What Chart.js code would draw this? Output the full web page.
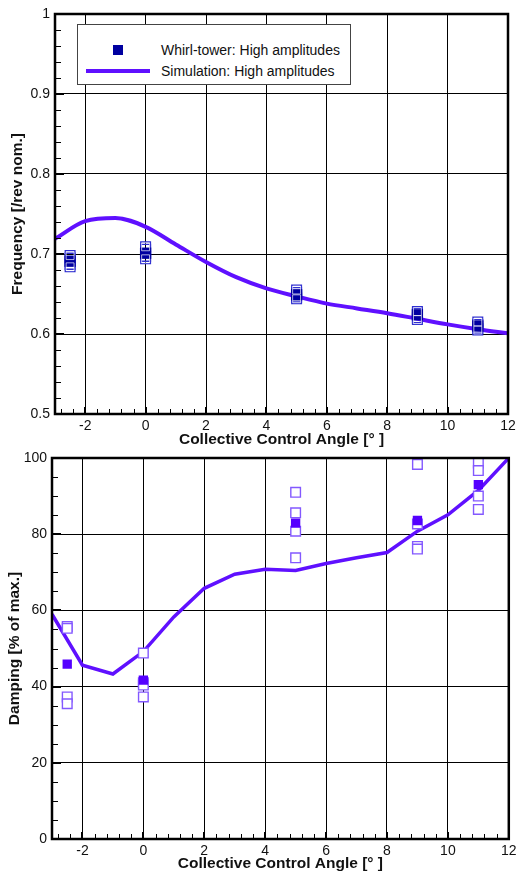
<!DOCTYPE html>
<html>
<head>
<meta charset="utf-8">
<title>Lag mode frequency and damping vs collective</title>
<script src="https://cdn.jsdelivr.net/npm/chart.js@4.4.1/dist/chart.umd.min.js"></script>
<style>
  html, body { margin: 0; padding: 0; background: #fff; }
  #wrap { position: relative; width: 517px; height: 871px; overflow: hidden; }
  #freqChart { position: absolute; left: 0; top: 0; }
  #dampChart { position: absolute; left: 0; top: 445px; }
  .legend {
    position: absolute; left: 77px; top: 24px; width: 272px; height: 59px;
    border: 1px solid #444; background: #fff;
    font: 14px "Liberation Sans", Arial, sans-serif; color: #111;
  }
  .legend .mark { position: absolute; left: 35px; top: 20px; width: 10px; height: 10px; background: #0000a0; }
  .legend .line { position: absolute; left: 8px; top: 44px; width: 64px; height: 4px; background: #5f10ff; }
  .legend .txt { position: absolute; left: 83px; line-height: 16px; white-space: nowrap; }
</style>
</head>
<body>
<div id="wrap">
  <canvas id="freqChart" width="517" height="447"></canvas>
  <canvas id="dampChart" width="517" height="426"></canvas>
  <div class="legend">
    <div class="mark"></div><div class="txt" style="top:17px">Whirl-tower: High amplitudes</div>
    <div class="line"></div><div class="txt" style="top:38px">Simulation: High amplitudes</div>
  </div>
</div>
<script>
// simulation, evaluated at whole degrees of collective
const simAngles = [-3, -2, -1, 0, 1, 2, 3, 4, 5, 6, 7, 8, 9, 10, 11, 12];
const simFrequency = [0.719, 0.741, 0.745, 0.734, 0.712, 0.690, 0.671, 0.657, 0.647, 0.638, 0.632, 0.626, 0.619, 0.612, 0.606, 0.601];
const simDamping = [59.0, 45.6, 43.3, 49.2, 58.3, 65.8, 69.5, 70.8, 70.5, 72.3, 73.8, 75.2, 80.8, 85.1, 91.5, 100.0];

// whirl-tower test points: mean value and the individual runs
const testAngles = [-2.5, 0, 5, 9, 11];
const freqMean = [0.691, 0.701, 0.649, 0.624, 0.610];
const freqRuns = [
  [0.698, 0.695, 0.687, 0.684],
  [0.709, 0.706, 0.697, 0.694],
  [0.655, 0.652, 0.646, 0.644],
  [0.628, 0.626, 0.620, 0.618],
  [0.615, 0.612, 0.607, 0.605]
];
const dampMean = [45.9, 41.7, 82.9, 83.6, 93.0];
const dampRuns = [
  [55.8, 55.3, 37.3, 35.5],
  [48.8, 41.0, 40.4, 37.3],
  [91.0, 85.6, 80.8, 73.8],
  [98.3, 82.7, 76.8, 76.1],
  [98.7, 96.7, 90.0, 86.5]
];

const xTicks = [-2, 0, 2, 4, 6, 8, 10, 12];
const freqTicks = [0.5, 0.6, 0.7, 0.8, 0.9, 1];
const dampTicks = [0, 20, 40, 60, 80, 100];

const FONT = '"Liberation Sans", Arial, sans-serif';

function pairs(xs, ys) {
  return xs.map((x, i) => ({ x: x, y: ys[i] }));
}
function runPoints(runs) {
  return testAngles.flatMap((x, i) => runs[i].map(y => ({ x: x, y: y })));
}
// highest and lowest run at each angle
function outerRuns(runs) {
  return testAngles.flatMap((x, i) => [
    { x: x, y: Math.max(...runs[i]) },
    { x: x, y: Math.min(...runs[i]) }
  ]);
}

// frame round the plot plus tecplot style inward ticks
const frameTicks = {
  id: 'frameTicks',
  afterDraw(chart, args, opts) {
    const { ctx, chartArea: a, scales } = chart;
    ctx.save();
    ctx.strokeStyle = '#000';
    const xs = scales.x, ys = scales.y;
    // minor ticks
    ctx.lineWidth = 1;
    ctx.beginPath();
    for (let v = opts.xMinorStart; v < xs.max + 1e-9; v += opts.xMinor) {
      const px = Math.round(xs.getPixelForValue(v)) + 0.5;
      ctx.moveTo(px, a.bottom); ctx.lineTo(px, a.bottom - 5);
    }
    for (let v = ys.min; v < ys.max + 1e-9; v += opts.yMinor) {
      const py = Math.round(ys.getPixelForValue(v)) + 0.5;
      ctx.moveTo(a.left, py); ctx.lineTo(a.left + 6, py);
    }
    ctx.stroke();
    // major ticks
    ctx.lineWidth = 2;
    ctx.beginPath();
    xs.ticks.forEach(t => {
      const px = Math.round(xs.getPixelForValue(t.value));
      ctx.moveTo(px, a.bottom); ctx.lineTo(px, a.bottom - 7);
    });
    ys.ticks.forEach(t => {
      const py = Math.round(ys.getPixelForValue(t.value));
      ctx.moveTo(a.left, py); ctx.lineTo(a.left + 9, py);
    });
    ctx.stroke();
    ctx.lineWidth = 2.5;
    ctx.strokeRect(a.left, a.top, a.right - a.left, a.bottom - a.top);
    ctx.restore();
  }
};

function fixedScale(size, isY) {
  return function (scale) {
    if (isY) scale.width = size; else scale.height = size;
    scale.paddingLeft = scale.paddingRight = scale.paddingTop = scale.paddingBottom = 0;
  };
}

function baseOptions(o) {
  return {
    responsive: false,
    animation: false,
    devicePixelRatio: 1,
    layout: { padding: o.padding },
    plugins: {
      legend: { display: false },
      tooltip: { enabled: false },
      frameTicks: o.ticks
    },
    scales: {
      x: {
        type: 'linear', min: -3, max: 12,
        afterBuildTicks: s => { s.ticks = xTicks.map(v => ({ value: v })); },
        afterFit: fixedScale(o.xHeight, false),
        grid: { color: '#000', lineWidth: 1, drawTicks: false },
        border: { display: false },
        ticks: { padding: 4, color: '#111', maxRotation: 0, font: { family: FONT, size: 14 } },
        title: {
          display: true, text: 'Collective Control Angle [° ]', color: '#111',
          padding: { top: 0, bottom: 0 },
          font: { family: FONT, size: 15.5, weight: 'bold', lineHeight: 1 }
        }
      },
      y: {
        type: 'linear', min: o.yMin, max: o.yMax,
        afterBuildTicks: s => { s.ticks = o.yTicks.map(v => ({ value: v })); },
        afterFit: fixedScale(o.yWidth, true),
        grid: { color: '#000', lineWidth: 1, drawTicks: false },
        border: { display: false },
        ticks: { padding: 5, color: '#111', font: { family: FONT, size: 14 },
                 callback: v => String(v) },
        title: {
          display: true, text: o.yTitle, color: '#111',
          padding: { top: o.yTitlePad, bottom: 0 },
          font: { family: FONT, size: 15.5, weight: 'bold', lineHeight: 1 }
        }
      }
    }
  };
}

// upper panel: frequency
new Chart(document.getElementById('freqChart'), {
  type: 'scatter',
  data: {
    datasets: [
      {
        type: 'line', label: 'Simulation: High amplitudes',
        data: pairs(simAngles, simFrequency),
        borderColor: '#5f10ff', borderWidth: 4, pointRadius: 0,
        cubicInterpolationMode: 'monotone', order: 3
      },
      {
        label: 'runs',
        data: runPoints(freqRuns),
        pointStyle: 'rect', pointRadius: 6.8, backgroundColor: 'rgba(0,0,0,0)',
        borderColor: '#2f2fd0', borderWidth: 1.4, order: 2
      },
      {
        label: 'Whirl-tower: High amplitudes',
        data: pairs(testAngles, freqMean),
        pointStyle: 'rect', pointRadius: 8, backgroundColor: '#0000a0',
        borderColor: '#0000a0', borderWidth: 0, order: 1
      },
      {
        label: 'runs inner',
        data: outerRuns(freqRuns),
        pointStyle: 'rect', pointRadius: 5.6, backgroundColor: 'rgba(0,0,0,0)',
        borderColor: 'rgba(255,255,255,0.85)', borderWidth: 0.8, order: 0
      }
    ]
  },
  options: baseOptions({
    padding: { left: 0, top: 14, right: 9, bottom: 0 },
    xHeight: 33, yWidth: 55,
    yMin: 0.5, yMax: 1, yTicks: freqTicks,
    yTitle: 'Frequency [/rev nom.]', yTitlePad: 10,
    ticks: { xMinorStart: -2.8, xMinor: 0.4, yMinor: 0.02 }
  }),
  plugins: [frameTicks]
});

// lower panel: damping
new Chart(document.getElementById('dampChart'), {
  type: 'scatter',
  data: {
    datasets: [
      {
        type: 'line', label: 'Simulation',
        data: pairs(simAngles, simDamping),
        borderColor: '#5f10ff', borderWidth: 3.5, pointRadius: 0,
        tension: 0, order: 2
      },
      {
        label: 'runs',
        data: runPoints(dampRuns),
        pointStyle: 'rect', pointRadius: 6.8, backgroundColor: '#ffffff',
        borderColor: '#8358ff', borderWidth: 1.4, order: 1
      },
      {
        label: 'Whirl-tower',
        data: pairs(testAngles, dampMean),
        pointStyle: 'rect', pointRadius: 6.6, backgroundColor: '#5500ff',
        borderColor: '#5500ff', borderWidth: 0, order: 0
      }
    ]
  },
  options: baseOptions({
    padding: { left: 0, top: 13, right: 6, bottom: 0 },
    xHeight: 32, yWidth: 52,
    yMin: 0, yMax: 100, yTicks: dampTicks,
    yTitle: 'Damping [% of max.]', yTitlePad: 7,
    ticks: { xMinorStart: -2.8, xMinor: 0.4, yMinor: 5 }
  }),
  plugins: [frameTicks]
});
</script>
</body>
</html>
